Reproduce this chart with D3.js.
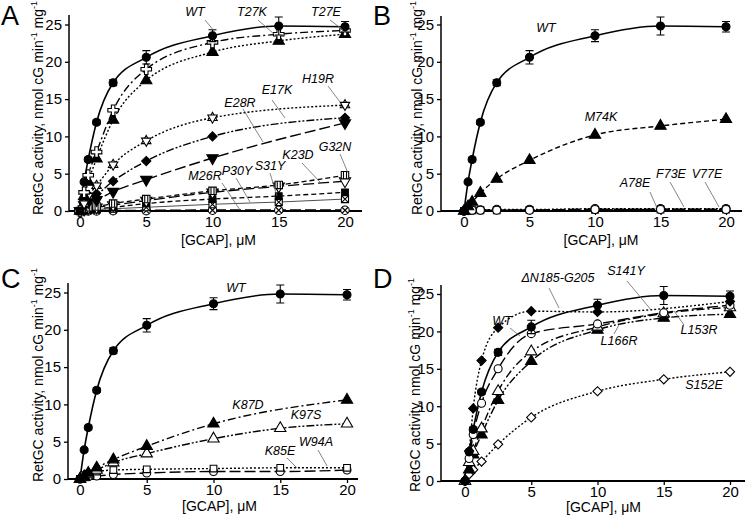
<!DOCTYPE html>
<html><head><meta charset="utf-8">
<script src="https://cdn.jsdelivr.net/npm/d3@7"></script>
<style>
body{margin:0;background:#fff;}
svg{display:block;font-family:"Liberation Sans",Arial,sans-serif;}
</style></head>
<body><svg id="c" width="745" height="516"></svg>
<script>
// ---------- DATA ----------
const gcap = [0, 0.31, 0.62, 1.25, 2.5, 5, 10, 15, 20];
const xTicks = [0, 5, 10, 15, 20];
const yTicks = [0, 5, 10, 15, 20, 25];
const panelLetters = ["A", "B", "C", "D"];
const xTitle = "[GCAP], \u03bcM";

const wt      = [0, 3.9, 6.9, 11.9, 17.2, 20.6, 23.5, 24.8, 24.7];
const wtErr   = [0, 0.2, 0.3, 0.3, 0.4, 0.9, 0.8, 1.2, 0.7];

// Panel A
const aT27K = [0, 2.5, 4.8, 7.9, 13.5, 19.0, 22.6, 23.7, 24.2];
const aT27E = [0, 2.0, 3.9, 7.0, 12.2, 17.5, 21.3, 22.8, 23.7];
const aH19R = [0, 1.0, 2.0, 3.4, 6.2, 9.4, 12.5, null, 14.2];
const aE17K = [0, 1.5, 2.0, 2.3, 4.0, 6.7, 10.0, null, 12.5];
const aE28R = [0, 0.8, 1.2, 1.5, 2.6, 4.2, 7.1, null, 11.8];
const aG32N = [0, 0.3, 0.5, 0.6, 1.0, 1.6, 2.7, 3.5, 4.8];
const aK23D = [0, 0.2, 0.4, 0.5, 0.8, 1.4, 2.5, 3.3, 4.0];
const aS31Y = [0, 0.1, 0.2, 0.3, 0.5, 1.0, 1.6, 2.0, 2.5];
const aP30Y = [0, 0.1, 0.1, 0.2, 0.3, 0.5, 0.9, 1.2, 1.6];
const aM26R = [0, 0, 0, 0, 0.05, 0.05, 0.1, 0.1, 0.1];
const aNames = ["WT","T27K","T27E","H19R","E17K","E28R","G32N","K23D","S31Y","P30Y","M26R"];

// Panel B
const bM74K = [0, 0.6, 1.2, 2.4, 4.3, 6.8, 10.2, 11.4, 12.3];
const bA78E = [0, 0.05, 0.1, 0.1, 0.1, 0.1, 0.2, 0.2, 0.2];
const bF73E = [0, 0.1, 0.1, 0.1, 0.1, 0.15, 0.15, 0.2, 0.2];
const bV77E = [0, 0.1, 0.1, 0.15, 0.2, 0.2, 0.3, 0.3, 0.3];
const bNames = ["WT","M74K","A78E","F73E","V77E"];

// Panel C
const cK87D = [0, 0.3, 0.8, 1.5, 2.6, 4.4, 7.4, null, 10.6];
const cK97S = [0, 0.3, 0.6, 1.2, 2.2, 3.4, 5.4, 6.8, 7.4];
const cK85E = [0, 0.5, 0.7, 1.0, 1.2, 1.3, 1.4, 1.5, 1.5];
const cW94A = [0, 0.2, 0.3, 0.4, 0.6, 0.8, 1.0, 1.0, 1.2];
const cNames = ["WT","K87D","K97S","K85E","W94A"];

// Panel D
const dDN185 = [0, 4.0, 9.7, 16.1, 20.5, 22.7, 22.6, null, 24.0];
const dS141Y = [0, 3.0, 6.2, 10.4, 15.0, 19.7, 21.0, 22.5, 23.5];
const dL153R = [0, 2.5, 4.0, 7.0, 12.0, 17.3, 20.6, 22.4, 23.2];
const dL166R = [0, 1.5, 3.5, 6.2, 10.8, 16.0, 20.2, 21.8, 22.3];
const dS152E = [0, 0.9, 1.5, 2.6, 4.9, 8.5, 12.0, 13.6, 14.6];
const dNames = ["WT","\u0394N185-G205","S141Y","L153R","L166R","S152E"];

// ---------- STYLES / LAYOUT ----------
const DASH = {solid:null, dashdot:"8,3,2,3", dotted:"2,2", ddd:"8,2,2,2,2,2", longdash:"11,4", dashed:"5,3"};

const panels = [
  {ox:0, oy:0, x0:80, x1:345, y0:211, y1:24.5, axX:69, axTop:15, axRight:362, ytX:38, ytC:108, xtDy:34,
   series:[
     {v:wt, e:wtErr, m:"circle", f:true, d:"solid", w:1.6},
     {v:aT27K, m:"cross", f:false, d:"dashdot", w:1.4},
     {v:aT27E, m:"tri", f:true, d:"dotted", w:1.4},
     {v:aH19R, m:"star", f:false, d:"dotted", w:1.4},
     {v:aE17K, m:"diamond", f:true, d:"ddd", w:1.4},
     {v:aE28R, m:"triDown", f:true, d:"longdash", w:1.4},
     {v:aG32N, m:"barsquare", f:false, d:"dashed", w:1.3},
     {v:aK23D, m:"triDown", f:false, d:"longdash", w:1.3},
     {v:aS31Y, m:"square", f:true, d:"dashed", w:1.3},
     {v:aP30Y, m:"xsquare", f:false, d:"solid", w:0.7},
     {v:aM26R, m:"xcircle", f:false, d:"longdash", w:2}
   ],
   labels:[[195,16,0,[205,20,215,32]],[252,16,1,[258,20,274,34]],[326,16,2,[330,20,343,30]],
           [318,83,3,[328,86,340,102]],[277,94,4,[272,100,285,118]],[240,107,5,[243,109,263,142]],
           [335,151,6,[340,154,348,173]],[298,159,7,[302,163,320,182]],[270,170,8,[270,173,277,196]],
           [237,175,9,[236,178,250,202]],[205,180,10,[222,183,240,210]]]
  },
  {ox:372, oy:0, x0:464, x1:726, y0:211, y1:24.5, axX:441, axTop:16, axRight:742, ytX:417, ytC:108, xtDy:34,
   series:[
     {v:wt, e:wtErr, m:"circle", f:true, d:"solid", w:1.6},
     {v:bM74K, m:"tri", f:true, d:"dashed", w:1.4},
     {v:bA78E, m:"circle", f:false, d:"longdash", w:2},
     {v:bF73E, m:"square", f:false, d:"dashed", w:1.4},
     {v:bV77E, m:"xcircle", f:false, d:"dotted", w:1.4}
   ],
   labels:[[546,32,0,null],[601,121,1,null],[635,187,2,[650,192,657,208]],
           [671,178,3,[670,182,684,207]],[707,178,4,[705,182,719,207]]]
  },
  {ox:0, oy:258, x0:80, x1:347, y0:479, y1:292.5, axX:68, axTop:283, axRight:358, ytX:38, ytC:375, xtDy:32,
   series:[
     {v:wt, e:wtErr, m:"circle", f:true, d:"solid", w:1.6},
     {v:cK87D, m:"tri", f:true, d:"dashdot", w:1.4},
     {v:cK97S, m:"tri", f:false, d:"ddd", w:1.4},
     {v:cK85E, m:"square", f:false, d:"dotted", w:1.4},
     {v:cW94A, m:"circle", f:false, d:"longdash", w:1.4}
   ],
   labels:[[248,409,1,null],[306,419,2,null],[280,455,3,[287,458,297,468]],[316,446,4,[318,450,327,466]]],
   wtLabel:[236,292]
  },
  {ox:372, oy:258, x0:465, x1:730, y0:481, y1:294, axX:441, axTop:285, axRight:745, ytX:415, ytC:385, xtDy:31,
   series:[
     {v:wt, e:wtErr, m:"circle", f:true, d:"solid", w:1.6},
     {v:dDN185, m:"diamond", f:true, d:"dotted", w:1.4},
     {v:dS141Y, m:"circle", f:false, d:"longdash", w:1.4},
     {v:dL153R, m:"tri", f:false, d:"dashdot", w:1.4},
     {v:dL166R, m:"tri", f:true, d:"ddd", w:1.4},
     {v:dS152E, m:"diamond", f:false, d:"dotted", w:1.4}
   ],
   labels:[[502,325,0,[510,328,520,336]],[558,282,1,[549,288,559,308]],[626,275,2,[627,281,652,311]],
           [699,334,3,[674,311,684,325]],[619,345,4,[614,334,620,323]],[704,389,5,null]]
  }
];
const nameLists = [aNames, bNames, cNames, dNames];

// ---------- DRAW ----------
const svg = d3.select("#c");
const FONT = '"Liberation Sans",Arial,sans-serif';

function marker(g, type, filled, cx, cy) {
  const fill = filled ? "#000" : "#fff";
  const s = g.append("g").attr("transform", `translate(${cx},${cy})`)
    .attr("stroke", "#000").attr("stroke-width", 1.1).attr("fill", fill);
  const sym = (t, size, rot) => s.append("path").attr("d", d3.symbol(t, size)()).attr("transform", rot ? `rotate(${rot})` : null);
  switch (type) {
    case "circle": s.append("circle").attr("r", 4); break;
    case "tri": sym(d3.symbolTriangle, 55); break;
    case "triDown": sym(d3.symbolTriangle, 55, 180); break;
    case "square": sym(d3.symbolSquare, 45); break;
    case "diamond": sym(d3.symbolSquare, 42, 45); break;
    case "cross": sym(d3.symbolCross, 62); break;
    case "star":
      sym(d3.symbolTriangle, 38);
      sym(d3.symbolTriangle, 38, 180);
      break;
    case "xsquare":
      sym(d3.symbolSquare, 50);
      s.append("path").attr("d", "M-3.5,-3.5L3.5,3.5M-3.5,3.5L3.5,-3.5").attr("fill", "none");
      break;
    case "barsquare":
      sym(d3.symbolSquare, 55);
      s.append("path").attr("d", "M-1.5,-3.7V3.7M1.5,-3.7V3.7").attr("fill", "none");
      break;
    case "xcircle":
      s.append("circle").attr("r", 4.2);
      s.append("path").attr("d", "M-3,-3L3,3M-3,3L3,-3").attr("fill", "none");
      break;
  }
}

panels.forEach((p, pi) => {
  const g = svg.append("g");
  const x = d3.scaleLinear().domain([0, 20]).range([p.x0, p.x1]);
  const y = d3.scaleLinear().domain([0, 25]).range([p.y0, p.y1]);

  // panel letter
  g.append("text").attr("x", p.ox + 1).attr("y", p.oy + 25 + (pi >= 2 ? 5 : 0))
    .attr("font-size", 27).attr("font-family", FONT).text(panelLetters[pi]);

  // axes
  const ya = g.append("g").attr("transform", `translate(${p.axX},0)`)
    .call(d3.axisLeft(y).tickValues(yTicks).tickSize(4).tickPadding(3).tickFormat(d3.format("d")));
  ya.select(".domain").remove();
  const xa = g.append("g").attr("transform", `translate(0,${p.y0})`)
    .call(d3.axisBottom(x).tickValues(xTicks).tickSize(4).tickPadding(1).tickFormat(d3.format("d")));
  xa.select(".domain").remove();
  [ya, xa].forEach(a => {
    a.selectAll("text").attr("font-size", 15).attr("font-family", FONT).attr("fill", "#000");
    a.selectAll("line").attr("stroke", "#000").attr("stroke-width", 1.3);
  });
  g.append("line").attr("x1", p.axX).attr("x2", p.axX).attr("y1", p.axTop).attr("y2", p.y0)
    .attr("stroke", "#000").attr("stroke-width", 1.5);
  g.append("line").attr("x1", p.axX).attr("x2", p.axRight).attr("y1", p.y0).attr("y2", p.y0)
    .attr("stroke", "#000").attr("stroke-width", 2);

  // axis titles
  g.append("text").attr("x", (p.x0 + p.x1) / 2 + 6).attr("y", p.y0 + p.xtDy)
    .attr("text-anchor", "middle").attr("font-size", 14).attr("font-family", FONT).text(xTitle);
  const yt = g.append("text").attr("transform", `translate(${p.ytX + 5},${p.ytC}) rotate(-90)`)
    .attr("text-anchor", "middle").attr("font-size", 14).attr("font-family", FONT);
  yt.append("tspan").text("RetGC activity, nmol cG min");
  yt.append("tspan").attr("dy", -6).attr("font-size", 9).text("-1");
  yt.append("tspan").attr("dy", 6).text(" mg");
  yt.append("tspan").attr("dy", -6).attr("font-size", 9).text("-1");

  // series (draw in reverse so WT on top)
  const line = d3.line().defined(d => d[1] != null).x(d => x(d[0])).y(d => y(d[1])).curve(d3.curveMonotoneX);
  [...p.series].reverse().forEach(s => {
    const pts = gcap.map((xv, i) => [xv, s.v[i]]).filter(d => d[1] != null);
    g.append("path").datum(pts).attr("d", line).attr("fill", "none").attr("stroke", "#000")
      .attr("stroke-width", s.w).attr("stroke-dasharray", DASH[s.d]);
  });
  [...p.series].reverse().forEach(s => {
    gcap.forEach((xv, i) => {
      const v = s.v[i];
      if (v == null) return;
      const e = s.e ? s.e[i] : 0;
      if (e > 0.15) {
        const cx = x(xv);
        g.append("path").attr("d", `M${cx},${y(v - e)}V${y(v + e)}M${cx - 4},${y(v - e)}H${cx + 4}M${cx - 4},${y(v + e)}H${cx + 4}`)
          .attr("stroke", "#000").attr("stroke-width", 1.1).attr("fill", "none");
      }
      marker(g, s.m, s.f, x(xv), y(v));
    });
  });

  // labels
  const names = nameLists[pi];
  p.labels.forEach(([lx, ly, idx, ld]) => {
    if (ld) g.append("line").attr("x1", ld[0]).attr("y1", ld[1]).attr("x2", ld[2]).attr("y2", ld[3])
      .attr("stroke", "#666").attr("stroke-width", 0.8);
    g.append("text").attr("x", lx).attr("y", ly).attr("text-anchor", "middle")
      .attr("font-size", 12.5).attr("font-style", "italic").attr("font-family", FONT).text(names[idx]);
  });
  if (p.wtLabel) {
    g.append("text").attr("x", p.wtLabel[0]).attr("y", p.wtLabel[1]).attr("text-anchor", "middle")
      .attr("font-size", 12.5).attr("font-style", "italic").attr("font-family", FONT).text(names[0]);
  }
});
</script></body></html>
